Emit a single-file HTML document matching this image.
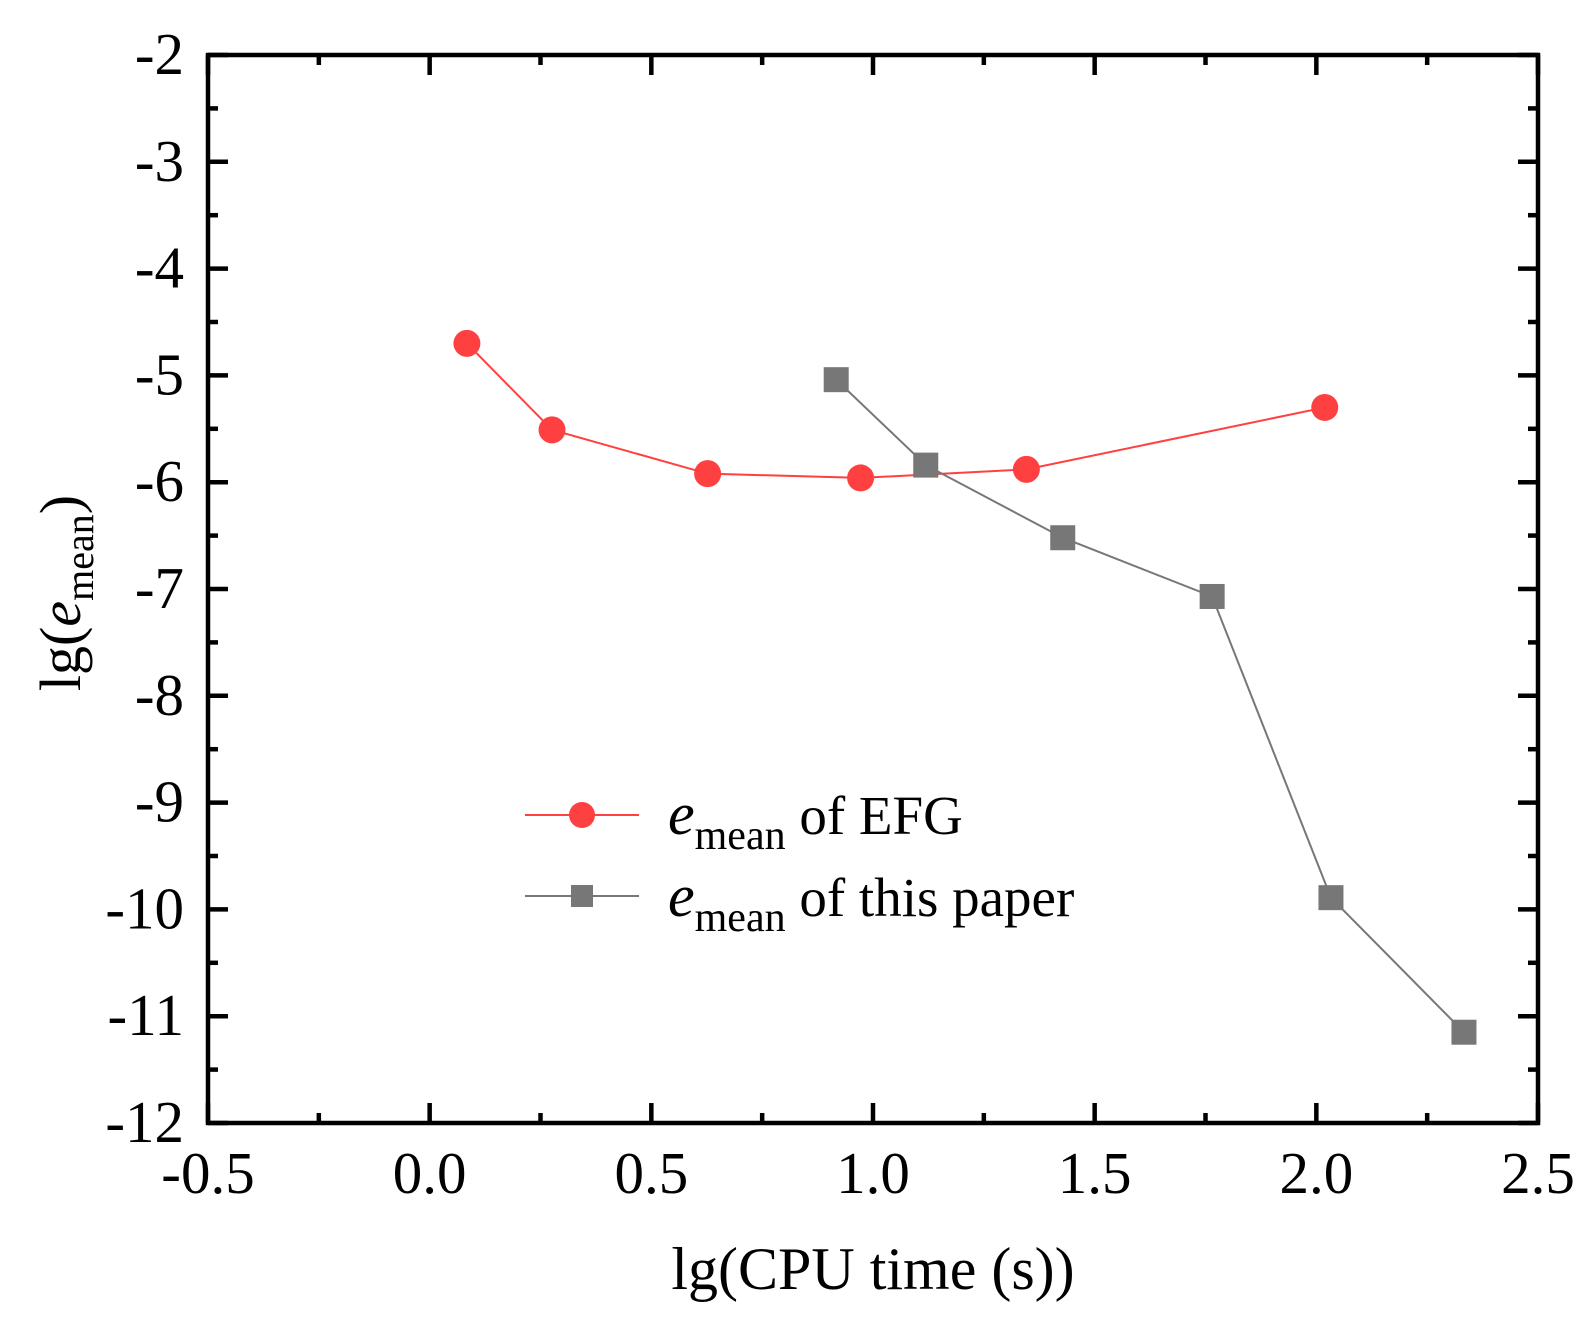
<!DOCTYPE html>
<html><head><meta charset="utf-8"><style>
body{margin:0;background:#fff}
svg{display:block;font-family:"Liberation Serif",serif}
</style></head><body>
<svg id="chart" width="1592" height="1326">
<g id="ticks"></g>
<g id="series"></g>
<rect x="208" y="55" width="1330" height="1068" fill="none" stroke="#000" stroke-width="4.5"/>
<text x="873" y="1289" font-size="60" text-anchor="middle">lg(CPU time (s))</text>
<text transform="translate(80,593) rotate(-90)" font-size="58" text-anchor="middle">lg(<tspan font-style="italic">e</tspan><tspan font-size="40" dy="13">mean</tspan><tspan dy="-13">)</tspan></text>
<g>
<line x1="525" y1="815" x2="639" y2="815" stroke="#ff4040" stroke-width="2"/>
<circle cx="582" cy="815" r="13" fill="#ff4040"/>
<text x="668" y="834" font-size="55"><tspan font-style="italic" font-size="60">e</tspan><tspan font-size="42" dy="15">mean</tspan><tspan dy="-15"> of EFG</tspan></text>
<line x1="525" y1="896" x2="639" y2="896" stroke="#777" stroke-width="2"/>
<rect x="571" y="885" width="22" height="22" fill="#777"/>
<text x="668" y="916" font-size="55"><tspan font-style="italic" font-size="60">e</tspan><tspan font-size="42" dy="15">mean</tspan><tspan dy="-15"> of this paper</tspan></text>
</g>
</svg>
<script>
const xTicks=[-0.5,0.0,0.5,1.0,1.5,2.0,2.5];
const xTickLabels=["-0.5","0.0","0.5","1.0","1.5","2.0","2.5"];
const yTicks=[-2,-3,-4,-5,-6,-7,-8,-9,-10,-11,-12];
const efgX=[0.084,0.276,0.627,0.972,1.346,2.019];
const efgY=[-4.70,-5.51,-5.92,-5.96,-5.88,-5.30];
const paperX=[0.917,1.119,1.428,1.765,2.033,2.333];
const paperY=[-5.04,-5.84,-6.52,-7.07,-9.89,-11.15];
const L=208,R=1538,T=55,B=1123;
const sx=v=>L+(v+0.5)/3*(R-L);
const sy=v=>T+(-2-v)/10*(B-T);
const NS="http://www.w3.org/2000/svg";
function mk(tag,attrs,parent){const e=document.createElementNS(NS,tag);for(const k in attrs)e.setAttribute(k,attrs[k]);parent.appendChild(e);return e;}
const tg=document.getElementById('ticks');
const SW=4.5,MAJ=20,MIN=10;
xTicks.forEach((v,i)=>{
  const x=sx(v);
  let t=mk('line',{x1:x,x2:x,y1:B,y2:B-MAJ,stroke:'#000','stroke-width':SW},tg);
  
  
  mk('line',{x1:x,x2:x,y1:T,y2:T+MAJ,stroke:'#000','stroke-width':SW},tg);
  if(i<xTicks.length-1){const xm=sx(v+0.25);
    mk('line',{x1:xm,x2:xm,y1:B,y2:B-MIN,stroke:'#000','stroke-width':SW},tg);
    mk('line',{x1:xm,x2:xm,y1:T,y2:T+MIN,stroke:'#000','stroke-width':SW},tg);}
  const lb=mk('text',{x:x,y:B+70,'font-size':59,'text-anchor':'middle'},tg);
  lb.textContent=xTickLabels[i];
  
  
});
yTicks.forEach((v,i)=>{
  const y=sy(v);
  mk('line',{x1:L,x2:L+MAJ,y1:y,y2:y,stroke:'#000','stroke-width':SW},tg);
  mk('line',{x1:R,x2:R-MAJ,y1:y,y2:y,stroke:'#000','stroke-width':SW},tg);
  if(i<yTicks.length-1){const ym=sy(v-0.5);
    mk('line',{x1:L,x2:L+MIN,y1:ym,y2:ym,stroke:'#000','stroke-width':SW},tg);
    mk('line',{x1:R,x2:R-MIN,y1:ym,y2:ym,stroke:'#000','stroke-width':SW},tg);}
  const lb=mk('text',{x:184,y:y+19,'font-size':59,'text-anchor':'end'},tg);
  lb.textContent=String(v);
  
  
});
const sg=document.getElementById('series');
const pl1=mk('polyline',{points:efgX.map((x,i)=>sx(x)+','+sy(efgY[i])).join(' '),fill:'none',stroke:'#ff4040','stroke-width':2},sg);


const pl2=mk('polyline',{points:paperX.map((x,i)=>sx(x)+','+sy(paperY[i])).join(' '),fill:'none',stroke:'#777','stroke-width':2},sg);


paperX.forEach((x,i)=>{
  const r=mk('rect',{x:sx(x)-12.5,y:sy(paperY[i])-12.5,width:25,height:25,fill:'#777'},sg);
  
  
});
efgX.forEach((x,i)=>{
  const c=mk('circle',{cx:sx(x),cy:sy(efgY[i]),r:13.5,fill:'#ff4040'},sg);
  
  
});
</script>
</body></html>
